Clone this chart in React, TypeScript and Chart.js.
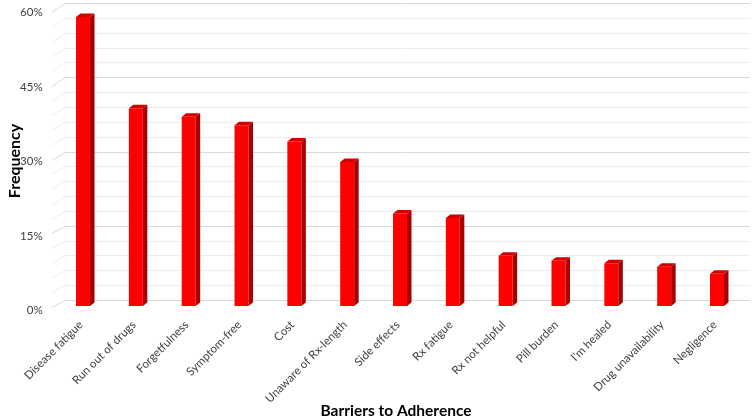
import React, { useEffect, useRef } from 'react';
import { Chart, registerables } from 'chart.js';

Chart.register(...registerables);

const categories = [
  'Disease fatigue',
  'Run out of drugs',
  'Forgetfulness',
  'Symptom-free',
  'Cost',
  'Unaware of Rx-length',
  'Side effects',
  'Rx fatigue',
  'Rx not helpful',
  'Pill burden',
  "I'm healed",
  'Drug unavailability',
  'Negligence',
];
const frequencies = [58.2, 39.8, 38.1, 36.4, 33.1, 29.0, 18.6, 17.7, 10.1, 9.1, 8.6, 7.9, 6.5];
const yMax = 60;
const yLabelStep = 15;
const gridStep = 3;
const xTitle = 'Barriers to Adherence';
const yTitle = 'Frequency';

const FONT = 'Lato, "Open Sans", sans-serif';
const FRONT = '#FF0000';
const SIDE = '#A80000';
const TOP = '#D20000';

export default function App() {
  const ref = useRef<HTMLCanvasElement>(null);

  useEffect(() => {
    const canvas = ref.current;
    if (!canvas) return;

    const wallPlugin = {
      id: 'wall3d',
      beforeDatasetsDraw(chart: any) {
        const y = chart.scales.y;
        const { left, right } = chart.chartArea;
        const c = chart.ctx;
        c.save();
        c.lineWidth = 1;
        for (let v = 0; v <= yMax; v += gridStep) {
          const p = y.getPixelForValue(v);
          const fy = Math.round(p + 1 + (3 * v) / yMax) + 0.5;
          const by = Math.round(p - 6 + v / yMax) + 0.5;
          c.strokeStyle = v % yLabelStep === 0 ? '#D9D9D9' : '#EDEDED';
          c.beginPath();
          c.moveTo(left - 4.6, fy);
          c.lineTo(left + 8.4, by);
          c.lineTo(right + 6.6, by);
          c.stroke();
        }
        c.restore();
      },
    };

    const barPlugin = {
      id: 'bar3d',
      afterDatasetsDraw(chart: any) {
        const meta = chart.getDatasetMeta(0);
        const c = chart.ctx;
        const dx = 4.5;
        const dy = 3.5;
        c.save();
        meta.data.forEach((bar: any) => {
          const { x, y, base, width } = bar.getProps(['x', 'y', 'base', 'width'], true);
          const l = x - width / 2;
          const r = x + width / 2;
          c.fillStyle = SIDE;
          c.beginPath();
          c.moveTo(r, y);
          c.lineTo(r + dx, y - dy);
          c.lineTo(r + dx, base - dy);
          c.lineTo(r, base);
          c.closePath();
          c.fill();
          c.fillStyle = TOP;
          c.beginPath();
          c.moveTo(l, y);
          c.lineTo(l + dx, y - dy);
          c.lineTo(r + dx, y - dy);
          c.lineTo(r, y);
          c.closePath();
          c.fill();
        });
        c.restore();
      },
    };

    const titlePlugin = {
      id: 'titles',
      afterDraw(chart: any) {
        const c = chart.ctx;
        c.save();
        c.fillStyle = '#000000';
        c.font = `bold 15.5px ${FONT}`;
        c.textAlign = 'center';
        c.textBaseline = 'middle';
        c.fillText(xTitle, 396, 411);
        c.font = `bold 16px ${FONT}`;
        c.translate(15, 161);
        c.rotate(-Math.PI / 2);
        c.fillText(yTitle, 0, 0);
        c.restore();
      },
    };

    const chart = new Chart(canvas, {
      type: 'bar',
      data: {
        labels: categories,
        datasets: [
          {
            data: frequencies,
            backgroundColor: FRONT,
            borderWidth: 0,
            categoryPercentage: 1,
            barPercentage: 0.265,
          },
        ],
      },
      options: {
        animation: false,
        responsive: false,
        layout: { padding: { top: 8, right: 9.6, left: 0, bottom: 0 } },
        plugins: { legend: { display: false }, tooltip: { enabled: false } },
        scales: {
          x: {
            offset: true,
            grid: { display: false, drawTicks: false },
            border: { display: false },
            ticks: {
              autoSkip: false,
              maxRotation: 45,
              minRotation: 45,
              color: '#404040',
              padding: 12,
              labelOffset: -2,
              font: { family: FONT, size: 11.5 },
            },
            afterFit(scale: any) {
              scale.height = 112;
              scale.paddingTop = 0;
              scale.paddingBottom = 0;
            },
          },
          y: {
            min: 0,
            max: yMax,
            grid: { display: false, drawTicks: false },
            border: { display: false },
            ticks: {
              stepSize: yLabelStep,
              color: '#404040',
              padding: 14,
              labelOffset: 4.5,
              font: { family: FONT, size: 11.5 },
              callback: (v: any) => `${v}%`,
            },
            afterFit(scale: any) {
              scale.width = 56.6;
              scale.paddingTop = 0;
              scale.paddingBottom = 0;
            },
          },
        },
      },
      plugins: [wallPlugin, barPlugin, titlePlugin],
    });

    return () => chart.destroy();
  }, []);

  return (
    <div style={{ position: 'absolute', left: 0, top: 0, width: 753, height: 418, background: '#FFFFFF' }}>
      <canvas ref={ref} width={753} height={418} style={{ display: 'block' }} />
    </div>
  );
}
